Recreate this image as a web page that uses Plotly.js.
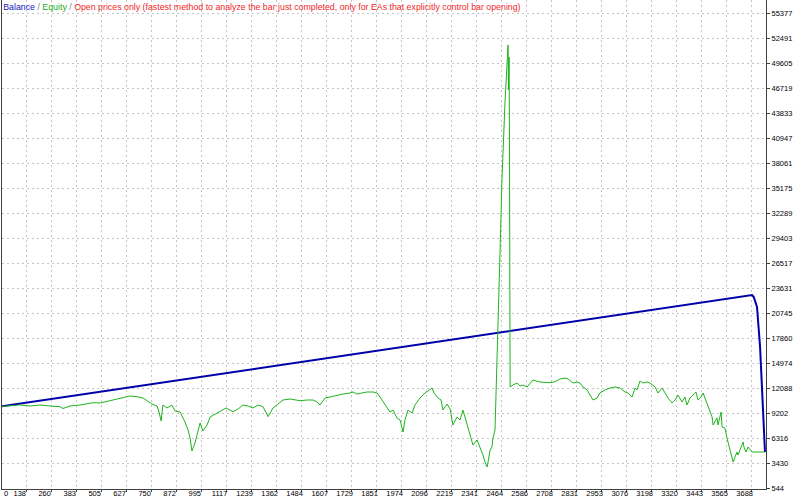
<!DOCTYPE html>
<html>
<head>
<meta charset="utf-8">
<script src="https://cdn.plot.ly/plotly-3.0.1.min.js"></script>
<style>html,body{margin:0;padding:0;background:#fff;}#chart{width:800px;height:500px;}</style>
</head>
<body>
<div id="chart"></div>
<script>
// Balance curve (trade index, account balance)
const balanceX = [17, 1000, 2000, 3000, 3650, 3680, 3690, 3698, 3714, 3729, 3743, 3753];
const balanceY = [10000, 13450, 16960, 20470, 22751, 22856, 22850, 22620, 21471, 16854, 9235, 4734];

// Equity curve (trade index, account equity)
const equityX = [17, 56, 105, 154, 203, 252, 301, 316, 350, 399, 463, 497, 546, 595, 644, 678, 707, 727, 751, 776,
  786, 796, 805, 825, 849, 864, 889, 913, 928, 938, 947, 962, 977, 987, 1001, 1021, 1036, 1060, 1085, 1114,
  1148, 1173, 1197, 1222, 1246, 1271, 1295, 1320, 1344, 1369, 1393, 1427, 1476, 1511, 1540, 1560, 1574, 1584, 1599, 1623,
  1657, 1687, 1721, 1736, 1755, 1780, 1804, 1834, 1853, 1868, 1883, 1902, 1917, 1932, 1951, 1966, 1981, 1990, 2005, 2025,
  2039, 2064, 2088, 2103, 2123, 2132, 2152, 2167, 2176, 2196, 2211, 2225, 2245, 2260, 2274, 2284, 2299, 2318, 2323, 2343,
  2358, 2367, 2372, 2382, 2392, 2397, 2407, 2416, 2421, 2431, 2436, 2441, 2446, 2456, 2465, 2470, 2475, 2480, 2485, 2490,
  2495, 2497, 2500, 2502, 2503, 2505, 2519, 2539, 2553, 2568, 2588, 2602, 2617, 2651, 2686, 2700, 2725, 2749, 2774, 2789,
  2813, 2833, 2847, 2862, 2882, 2896, 2911, 2931, 2945, 2970, 2994, 3019, 3043, 3068, 3082, 3102, 3117, 3126, 3141, 3156,
  3175, 3190, 3215, 3229, 3249, 3264, 3278, 3298, 3313, 3327, 3347, 3361, 3371, 3386, 3401, 3415, 3425, 3440, 3450, 3459,
  3474, 3494, 3499, 3518, 3523, 3538, 3543, 3557, 3567, 3577, 3587, 3597, 3606, 3616, 3621, 3636, 3646, 3650, 3660, 3670,
  3680, 3690, 3753];
const equityY = [10000, 10043, 10159, 10043, 10159, 10043, 9963, 9755, 10043, 10159, 10424, 10390, 10655, 10967, 11198, 11117, 10967, 10655, 10274, 10043,
  9351, 8312, 10159, 9813, 10159, 9466, 9351, 8197, 7273, 6350, 4849, 5773, 7042, 8081, 7158, 7850, 8774, 9120, 9385, 9813,
  9385, 9697, 10159, 10043, 9813, 10159, 9963, 8808, 9813, 10274, 10736, 10851, 10655, 10736, 10736, 10505, 10159, 10505, 10967, 11082,
  11313, 11429, 11544, 11659, 11429, 11544, 11659, 11659, 11544, 11082, 10505, 9928, 9351, 9582, 8658, 8427, 7042, 8427, 9582, 9235,
  10159, 10967, 11544, 11775, 12121, 11544, 10967, 10736, 9582, 10274, 9697, 7850, 8774, 8427, 9582, 8774, 7619, 6119, 5542, 6119,
  5311, 4734, 4387, 3579, 3002, 3579, 4964, 5311, 6350, 7273, 11082, 15007, 18239, 28050, 36131, 39593, 42710, 45134, 47327, 49982,
  51714, 46519, 50328, 39593, 18816, 12237, 12467, 12698, 12352, 12467, 12237, 12698, 13045, 12814, 12814, 12733, 12848, 13160, 13275, 13160,
  12698, 12814, 12698, 12237, 11890, 11313, 10736, 10967, 11544, 11890, 12121, 12237, 12121, 11659, 11544, 11082, 12121, 11890, 12929, 12698,
  12814, 12698, 12237, 11544, 12121, 11544, 10967, 10390, 10736, 11313, 10505, 11082, 10159, 10967, 11313, 11659, 10736, 11082, 11544, 10967,
  10159, 8774, 7850, 8658, 7850, 9351, 7619, 7504, 6350, 5311, 4618, 3579, 4156, 4734, 4387, 5311, 5888, 5311, 4734, 5311,
  4964, 4734, 4734];

// Axis ticks
const xTickVals = [138, 260, 383, 505, 627, 750, 872, 995, 1117, 1239, 1362, 1484, 1607, 1729, 1851, 1974, 2096, 2219, 2341, 2464,
  2586, 2708, 2831, 2953, 3076, 3198, 3320, 3443, 3565, 3688];
const xTickText = xTickVals.map(String);
const yTickVals = [544, 3430, 6316, 9202, 12088, 14974, 17860, 20745, 23631, 26517, 29403, 32289, 35175, 38061, 40947, 43833, 46719, 49605, 52491, 55377];
const yTickText = yTickVals.map(String);

const FONT = 'Liberation Sans, Arial, sans-serif';
const TICKSIZE = 7.5;

const traces = [
  {x: balanceX, y: balanceY, type: 'scatter', mode: 'lines', name: 'Balance',
   line: {color: '#0000AA', width: 2}, hoverinfo: 'skip'},
  {x: equityX, y: equityY, type: 'scatter', mode: 'lines', name: 'Equity',
   line: {color: '#1EB41E', width: 1}, hoverinfo: 'skip'}
];

const titleText = '<span style="color:#2020C0">Balance</span><span style="color:#808080"> / </span>' +
  '<span style="color:#20B020">Equity</span><span style="color:#808080"> / </span>' +
  '<span style="color:#F02828">Open prices only (fastest method to analyze the bar just completed, only for EAs that explicitly control bar opening)</span>';

const layout = {
  width: 800, height: 500,
  margin: {l: 2, r: 34, t: 0, b: 11, pad: 0},
  paper_bgcolor: '#FFFFFF', plot_bgcolor: '#FFFFFF',
  showlegend: false,
  title: {text: titleText, x: 0.004, xanchor: 'left', xref: 'container', y: 0.986, yanchor: 'middle', yref: 'container',
          font: {family: FONT, size: 8.8}},
  xaxis: {
    range: [17, 3758], tickmode: 'array', tickvals: xTickVals, ticktext: xTickText,
    showgrid: true, gridcolor: '#C4C4C4', griddash: '2px,3px', gridwidth: 1,
    zeroline: false, showline: true, linecolor: '#404040', linewidth: 1, mirror: false,
    ticks: 'outside', ticklen: 2, tickcolor: '#404040', ticklabelshift: -7, ticklabelstandoff: -5,
    tickfont: {family: FONT, size: TICKSIZE, color: '#000000'}, fixedrange: true
  },
  yaxis: {
    side: 'right', range: [463, 56908], tickmode: 'array', tickvals: yTickVals, ticktext: yTickText,
    showgrid: true, gridcolor: '#C4C4C4', griddash: '2px,3px', gridwidth: 1,
    zeroline: false, showline: true, linecolor: '#404040', linewidth: 1, mirror: true,
    ticks: 'outside', ticklen: 3, tickcolor: '#404040',
    tickfont: {family: FONT, size: TICKSIZE, color: '#000000'}, fixedrange: true
  },
  annotations: [
    {text: '0', xref: 'paper', yref: 'paper', x: 0, y: 0, xanchor: 'left', yanchor: 'middle', xshift: 0, yshift: -4.5,
     showarrow: false, font: {family: FONT, size: TICKSIZE, color: '#000000'}}
  ]
};

Plotly.newPlot('chart', traces, layout, {staticPlot: true, displayModeBar: false});
</script>
</body>
</html>
